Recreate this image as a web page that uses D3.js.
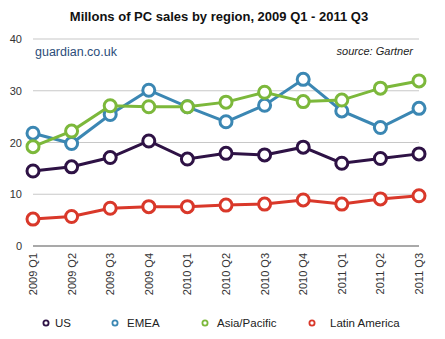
<!DOCTYPE html>
<html>
<head>
<meta charset="utf-8">
<script src="https://cdn.jsdelivr.net/npm/d3@7"></script>
<style>
  body { margin: 0; background: #fff; }
  svg { font-family: "Liberation Sans", Arial, sans-serif; }
</style>
</head>
<body>
<svg id="chart" width="445" height="339"></svg>
<script>
// Quarters along the x axis
const quarters = ["2009 Q1", "2009 Q2", "2009 Q3", "2009 Q4", "2010 Q1", "2010 Q2",
    "2010 Q3", "2010 Q4", "2011 Q1", "2011 Q2", "2011 Q3"];

// PC sales in millions
const us = [14.5, 15.3, 17.1, 20.3, 16.8, 17.9, 17.6, 19.1, 16.0, 16.9, 17.8];
const emea = [21.8, 19.8, 25.4, 30.1, 26.9, 24.0, 27.2, 32.2, 26.1, 22.9, 26.6];
const asiaPacific = [19.2, 22.2, 27.1, 26.9, 26.9, 27.8, 29.7, 27.9, 28.2, 30.5, 31.9];
const latinAmerica = [5.2, 5.7, 7.3, 7.6, 7.6, 7.9, 8.1, 8.9, 8.1, 9.1, 9.7];

const yTicks = [0, 10, 20, 30, 40];

const regions = [
    { name: "US", values: us, colour: "#2e1245" },
    { name: "EMEA", values: emea, colour: "#3b87b3" },
    { name: "Asia/Pacific", values: asiaPacific, colour: "#7cb83b" },
    { name: "Latin America", values: latinAmerica, colour: "#d9382a" }
];

const svg = d3.select("#chart");

// Plot area
const x = d3.scalePoint().domain(quarters).range([33, 419]);
const y = d3.scaleLinear().domain([0, 40]).range([246, 39]);

// Title
svg.append("text")
    .attr("x", 219)
    .attr("y", 21)
    .attr("text-anchor", "middle")
    .attr("font-size", 13)
    .attr("font-weight", "bold")
    .attr("fill", "#111")
    .text("Millons of PC sales by region, 2009 Q1 - 2011 Q3");

// Horizontal grid lines and y labels
const grid = svg.append("g");
grid.selectAll("line")
    .data(yTicks.filter(d => d > 0))
    .enter()
    .append("line")
    .attr("x1", 33)
    .attr("x2", 419)
    .attr("y1", d => y(d))
    .attr("y2", d => y(d))
    .attr("stroke", "#c8c8c8")
    .attr("stroke-width", 1.2);

grid.selectAll("text")
    .data(yTicks)
    .enter()
    .append("text")
    .attr("x", 22)
    .attr("y", d => y(d) + 4)
    .attr("text-anchor", "end")
    .attr("font-size", 11)
    .attr("fill", "#333")
    .text(d => d);

// Base axis line
svg.append("line")
    .attr("x1", 33)
    .attr("x2", 419)
    .attr("y1", y(0))
    .attr("y2", y(0))
    .attr("stroke", "#555")
    .attr("stroke-width", 1.2);

// Rotated quarter labels
svg.append("g")
    .selectAll("text")
    .data(quarters)
    .enter()
    .append("text")
    .attr("transform", d => `translate(${x(d) + 4},253) rotate(-90)`)
    .attr("text-anchor", "end")
    .attr("font-size", 11)
    .attr("fill", "#333")
    .text(d => d);

// Credits
svg.append("text")
    .attr("x", 35)
    .attr("y", 56)
    .attr("font-size", 12.5)
    .attr("fill", "#2c4d7a")
    .text("guardian.co.uk");

svg.append("text")
    .attr("x", 413)
    .attr("y", 55)
    .attr("text-anchor", "end")
    .attr("font-size", 11)
    .attr("font-style", "italic")
    .attr("fill", "#222")
    .text("source: Gartner");

// Series lines and markers
const line = d3.line()
    .x((d, i) => x(quarters[i]))
    .y(d => y(d));

const series = svg.append("g")
    .selectAll("g")
    .data(regions)
    .enter()
    .append("g");

series.append("path")
    .attr("d", d => line(d.values))
    .attr("fill", "none")
    .attr("stroke", d => d.colour)
    .attr("stroke-width", 3);

series.selectAll("circle")
    .data(d => d.values.map((v, i) => ({ v, i, colour: d.colour })))
    .enter()
    .append("circle")
    .attr("cx", d => x(quarters[d.i]))
    .attr("cy", d => y(d.v))
    .attr("r", 6)
    .attr("fill", "#fff")
    .attr("stroke", d => d.colour)
    .attr("stroke-width", 3);

// Legend
const legendX = [46, 115, 205, 312];
const legend = svg.append("g")
    .selectAll("g")
    .data(regions)
    .enter()
    .append("g")
    .attr("transform", (d, i) => `translate(${legendX[i]},323)`);

legend.append("circle")
    .attr("r", 2.6)
    .attr("fill", "#fff")
    .attr("stroke", d => d.colour)
    .attr("stroke-width", 1.8);

legend.append("text")
    .attr("x", (d, i) => i === 3 ? 18 : (i === 0 ? 9 : 12))
    .attr("y", 4)
    .attr("font-size", 11.5)
    .attr("fill", "#222")
    .text(d => d.name);
</script>
</body>
</html>
